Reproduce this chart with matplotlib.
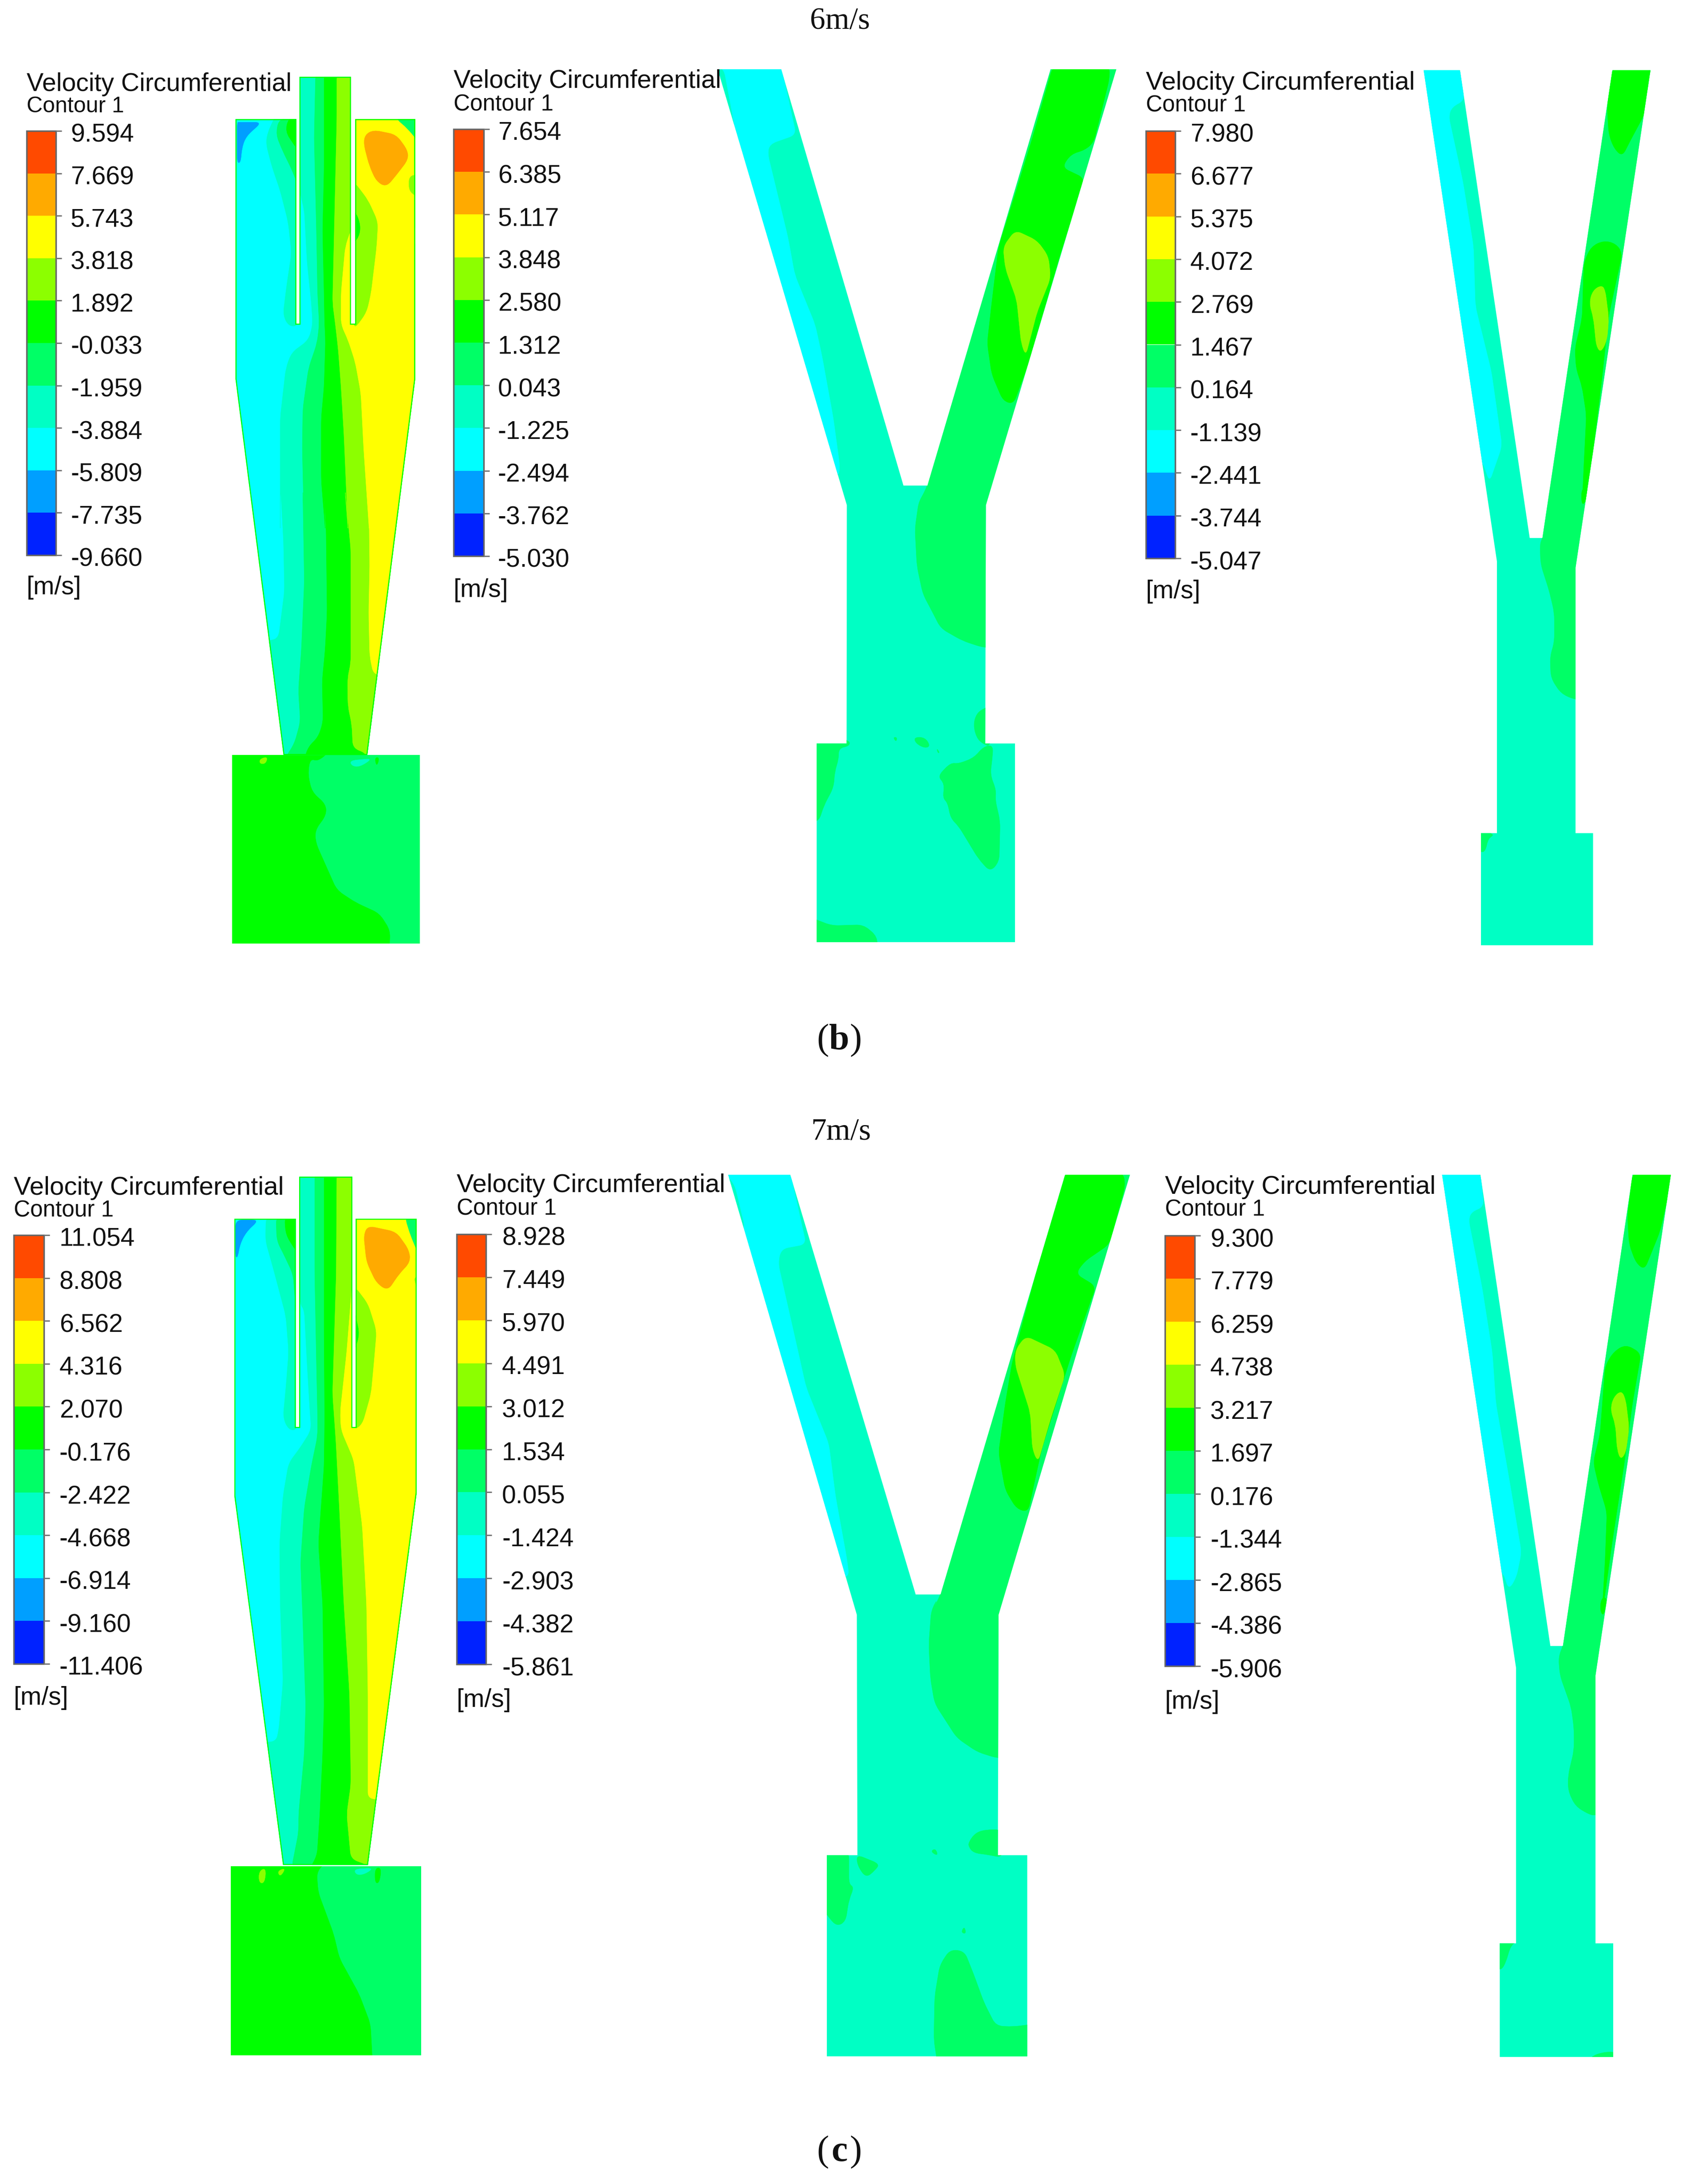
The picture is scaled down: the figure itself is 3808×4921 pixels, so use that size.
import matplotlib
matplotlib.use("Agg")
import matplotlib.pyplot as plt
import matplotlib.transforms as mtrans
from matplotlib.patches import Polygon, Rectangle, PathPatch
from matplotlib.path import Path

# ---------------- colour levels ----------------
RED, ORA, YEL, LIM, GRN, G66, TEA, CYA, SKY, BLU = ('#FF4A00', '#FFAA00', '#FFFF00', '#8CFF00', '#00FF00',
                                                    '#00FF66', '#00FFC4', '#00FFFF', '#009FFF', '#0022FF')
BANDS = [RED, ORA, YEL, LIM, GRN, G66, TEA, CYA, SKY, BLU]

LEVELS_B1 = ['9.594', '7.669', '5.743', '3.818', '1.892', '-0.033', '-1.959', '-3.884', '-5.809', '-7.735', '-9.660']
LEVELS_B2 = ['7.654', '6.385', '5.117', '3.848', '2.580', '1.312', '0.043', '-1.225', '-2.494', '-3.762', '-5.030']
LEVELS_B3 = ['7.980', '6.677', '5.375', '4.072', '2.769', '1.467', '0.164', '-1.139', '-2.441', '-3.744', '-5.047']
LEVELS_C1 = ['11.054', '8.808', '6.562', '4.316', '2.070', '-0.176', '-2.422', '-4.668', '-6.914', '-9.160', '-11.406']
LEVELS_C2 = ['8.928', '7.449', '5.970', '4.491', '3.012', '1.534', '0.055', '-1.424', '-2.903', '-4.382', '-5.861']
LEVELS_C3 = ['9.300', '7.779', '6.259', '4.738', '3.217', '1.697', '0.176', '-1.344', '-2.865', '-4.386', '-5.906']


def crop(x0, y0, w, h, sx=None):
    """Reading frame: maps points read in a magnified view to picture pixels."""
    sx = sx or min(1568 / w, 3)
    sy = 1568 / h
    return lambda pts: [(x0 + a / sx, y0 + b / sy) for a, b in pts]


Z1, Z2 = crop(0, 100, 1000, 1100), crop(400, 1100, 700, 1100)
Z3, Z4 = crop(1000, 100, 1600, 1100), crop(1700, 1100, 700, 1100)
Z5, Z6 = crop(2550, 100, 1258, 1100), crop(3200, 1100, 600, 1100)
Z7, Z8 = crop(0, 2600, 1000, 2120), crop(1000, 2600, 1600, 1100)
Z9, Z10 = crop(1800, 3600, 600, 1100), crop(2600, 2600, 1208, 1100)
Z11 = crop(3250, 3600, 500, 1100)


def right_of(b, right, sweep=None):
    """Everything to the right of a boundary; sweep = bottom y if the band also fills beneath its end."""
    pts = list(b)
    if sweep is not None:
        pts += [(pts[-1][0] - 300, pts[-1][1]), (pts[-1][0] - 300, sweep), (right, sweep)]
    else:
        pts += [(right, pts[-1][1])]
    return pts + [(right, b[0][1])]


# ---------------- panel b1: cyclone ----------------
B1_BODY = Z1([(832, 240), (1047, 240), (1047, 897), (1058, 897), (1058, 104), (1240, 104), (1240, 897), (1255, 897),
              (1255, 240), (1467, 240), (1467, 1075)]) + Z2([(958, 857), (535, 857)]) + Z1([(832, 1075)])
B1_BIN = Z2([(275, 857), (1222, 857), (1222, 1462), (275, 1462)])
B1_A = Z1([(1062, 90), (1060, 480), (1075, 530), (1085, 700), (1100, 830), (1105, 900), (1090, 950), (1030, 990),
           (1010, 1040), (990, 1200), (990, 1568)]) + Z2([(520, 0), (535, 170), (540, 330), (510, 480), (470, 490)])
B1_B = Z1([(1115, 90), (1110, 300), (1118, 600), (1122, 800), (1128, 900), (1120, 960), (1090, 1040), (1070, 1170),
           (1068, 1300), (1075, 1568)]) + Z2([(632, 0), (640, 300), (625, 520), (610, 650), (620, 750), (590, 820),
                                              (540, 870)])
B1_C = Z1([(1145, 90), (1145, 400), (1140, 600), (1145, 800), (1147, 900), (1150, 950), (1145, 1100), (1135, 1200),
           (1135, 1400), (1150, 1568)]) + Z2([(738, 0), (750, 130), (755, 400), (745, 520), (730, 620), (735, 750),
                                              (710, 800), (660, 830), (640, 870)])
B1_D = Z1([(1190, 90), (1190, 240), (1175, 830), (1185, 900), (1195, 980), (1205, 1100), (1215, 1250), (1230, 1568)]) + \
    Z2([(845, 0), (875, 200), (875, 560), (858, 610), (860, 700), (880, 760), (885, 835), (950, 850), (950, 870)])
B1_E = Z1([(1242, 590), (1220, 650), (1205, 800), (1205, 900), (1230, 950), (1255, 1020), (1275, 1120), (1285, 1300),
           (1305, 1568)]) + Z2([(965, 0), (970, 250), (965, 400), (970, 540), (990, 600), (1100, 600)])
B1_ANNULUS = Z1([(1250, 200), (1520, 200), (1520, 640), (1250, 640)])
B1_LAYERS = [
    (SKY, Z1([(845, 250), (925, 250), (870, 295), (855, 330), (850, 380), (838, 380), (838, 250)])),
    (TEA, Z1([(975, 225), (1052, 225), (1052, 905), (1020, 905), (1000, 870), (1012, 780), (1030, 670), (1018, 570),
              (990, 470), (960, 390), (940, 320), (945, 285)])),
    (G66, Z1([(985, 240), (1052, 235), (1052, 450), (1030, 400), (1000, 345), (975, 290)])),
    (GRN, Z1([(1020, 235), (1052, 235), (1052, 340), (1008, 280)])),
    (TEA, right_of(B1_A, 1100, sweep=1720)),
    (G66, right_of(B1_B, 1100)),
    (GRN, right_of(B1_C, 1100)),
    (LIM, right_of(B1_D, 1100)),
    (YEL, B1_ANNULUS),
    (YEL, right_of(B1_E, 1100)),
    (G66, Z1([(1395, 235), (1485, 225), (1485, 320), (1440, 270)])),
    (LIM, Z1([(1445, 420), (1490, 420), (1490, 495), (1445, 475)])),
    (LIM, Z1([(1250, 440), (1300, 500), (1335, 570), (1330, 650), (1310, 800), (1295, 860), (1260, 905), (1250, 905)])),
    (GRN, Z1([(1250, 530), (1272, 570), (1272, 610), (1250, 640)])),
    (ORA, Z1([(1290, 290), (1320, 275), (1400, 290), (1440, 340), (1442, 370), (1400, 420), (1365, 458), (1330, 440),
              (1305, 390), (1285, 320)])),
]
B1_BIN_LAYERS = [
    (G66, Z2([(670, 870), (660, 920), (680, 975), (750, 1015), (752, 1050), (695, 1100), (700, 1140), (805, 1290),
              (900, 1330), (1020, 1365), (1075, 1420), (1070, 1490), (1300, 1500), (1300, 820), (780, 840),
              (710, 878)])),
    (LIM, Z2([(415, 870), (455, 862), (445, 885), (415, 885)])),
    (TEA, Z2([(870, 875), (985, 868), (920, 895), (880, 892)])),
    (GRN, Z2([(995, 865), (1020, 865), (1005, 895)])),
]

# ---------------- panel c1: cyclone ----------------
C1_BODY = Z7([(828, 108), (1045, 108), (1045, 455), (1057, 455), (1057, 38), (1245, 38), (1245, 455), (1257, 455),
              (1257, 108), (1472, 108), (1472, 565), (1300, 1185), (1000, 1185), (828, 570)])
C1_BIN = Z7([(815, 1187), (1488, 1187), (1488, 1502), (815, 1502)])
C1_A = Z7([(1060, 30), (1060, 250), (1075, 260), (1085, 350), (1095, 430), (1100, 460), (1060, 490), (1020, 515),
           (1000, 570), (988, 650), (990, 750), (1000, 880), (985, 960), (975, 980), (920, 980)])
C1_B = Z7([(1112, 30), (1112, 200), (1118, 350), (1122, 440), (1122, 470), (1100, 520), (1075, 590), (1062, 680),
           (1070, 780), (1080, 920), (1075, 1000), (1055, 1100), (1055, 1130), (1030, 1190)])
C1_C = Z7([(1145, 30), (1145, 300), (1147, 440), (1145, 520), (1125, 650), (1140, 750), (1145, 920), (1140, 1000),
           (1130, 1100), (1120, 1170), (1095, 1190)])
C1_D = Z7([(1190, 30), (1188, 200), (1175, 400), (1187, 480), (1200, 600), (1215, 750), (1235, 900), (1240, 1050),
           (1225, 1100), (1240, 1175), (1300, 1185), (1300, 1195)])
C1_E = Z7([(1247, 200), (1225, 330), (1202, 430), (1205, 460), (1250, 510), (1280, 620), (1295, 750), (1300, 900),
           (1300, 1075), (1400, 1075)])
C1_LAYERS = [
    (SKY, Z7([(832, 110), (915, 110), (870, 130), (848, 150), (840, 172), (832, 172)])),
    (TEA, Z7([(940, 104), (1050, 104), (1050, 460), (1020, 460), (1000, 440), (1010, 390), (1020, 330), (1010, 270),
              (965, 190), (938, 145)])),
    (G66, Z7([(975, 104), (1050, 104), (1050, 285), (1035, 200), (1000, 165), (978, 145)])),
    (GRN, Z7([(1005, 104), (1050, 104), (1050, 165), (1010, 135)])),
    (TEA, right_of(C1_A, 1100, sweep=4220)),
    (G66, right_of(C1_B, 1100)),
    (GRN, right_of(C1_C, 1100)),
    (LIM, right_of(C1_D, 1100)),
    (YEL, Z7([(1250, 90), (1510, 90), (1510, 230), (1250, 230)])),
    (YEL, right_of(C1_E, 1100)),
    (G66, Z7([(1430, 104), (1490, 95), (1490, 180), (1450, 135)])),
    (LIM, Z7([(1460, 205), (1490, 245), (1490, 205)])),
    (LIM, Z7([(1252, 220), (1300, 250), (1330, 295), (1320, 350), (1310, 400), (1280, 450), (1252, 460)])),
    (GRN, Z7([(1252, 260), (1270, 300), (1252, 330)])),
    (ORA, Z7([(1285, 135), (1300, 120), (1400, 130), (1445, 160), (1450, 180), (1410, 200), (1370, 228), (1330, 215),
              (1295, 180)])),
]
C1_BIN_LAYERS = [
    (G66, Z7([(1120, 1195), (1125, 1230), (1180, 1300), (1200, 1340), (1270, 1400), (1310, 1450), (1320, 1540),
              (1560, 1540), (1560, 1150), (1180, 1170)])),
    (LIM, Z7([(915, 1195), (940, 1190), (935, 1215), (915, 1215)])),
    (LIM, Z7([(980, 1195), (1010, 1190), (990, 1205)])),
    (TEA, Z7([(1250, 1192), (1320, 1190), (1290, 1200), (1260, 1202)])),
    (GRN, Z7([(1325, 1190), (1348, 1190), (1340, 1215), (1325, 1215)])),
]

# ---------------- panel b2: separator ----------------
B2_BODY = Z3([(605, 80), (745, 80), (1015, 1417), (1068, 1417), (1340, 80), (1485, 80), (1197, 1480)]) + \
    Z4([(1165, 820), (1315, 820), (1315, 1458), (314, 1458), (314, 820), (465, 820)]) + Z3([(890, 1480)])
B2_LAYERS = [
    (CYA, Z3([(500, 70), (745, 70), (778, 290), (720, 320), (715, 350), (760, 620), (775, 740), (820, 900), (835, 1000),
              (860, 1200), (875, 1360), (870, 1390), (500, 1390)])),
    (TEA, Z3([(600, 70), (618, 80), (645, 290), (630, 290)])),
    (G66, Z3([(1330, 60), (1600, 60)]) + Z4([(1500, 512), (1155, 512), (1050, 490), (940, 450), (900, 400), (850, 340),
                                              (820, 250), (810, 130), (830, 40), (875, 0)]) +
     Z3([(1050, 1470), (1068, 1417)])),
    (GRN, Z3([(1345, 70), (1470, 70), (1470, 110), (1435, 315), (1415, 340), (1385, 352), (1365, 395), (1415, 430),
              (1360, 680), (1290, 1030), (1258, 1155), (1235, 1145), (1210, 1060), (1200, 960), (1210, 830), (1225, 650),
              (1262, 480), (1300, 300)])),
    (LIM, Z3([(1262, 597), (1310, 630), (1335, 680), (1340, 750), (1310, 860), (1285, 1000), (1275, 960), (1265, 820),
              (1240, 720), (1235, 650)])),
    (G66, Z4([(1155, 708), (1120, 725), (1105, 760), (1120, 800), (1150, 820), (1190, 830), (1190, 700)])),
    (G66, Z4([(280, 790), (480, 810), (480, 828), (425, 835), (425, 870), (405, 910), (400, 960), (350, 1020),
              (325, 1070), (280, 1070)])),
    (G66, Z4([(925, 925), (990, 882), (1030, 885), (1110, 865), (1155, 830), (1205, 825), (1200, 870), (1190, 920),
              (1220, 970), (1215, 1000), (1240, 1070), (1235, 1200), (1190, 1232), (1130, 1190), (1030, 1085),
              (990, 1060), (975, 1010), (950, 995), (960, 950)])),
    (G66, Z4([(280, 1378), (390, 1405), (550, 1402), (620, 1440), (620, 1490), (280, 1490)])),
    (G66, Z4([(805, 800), (860, 800), (888, 828), (860, 835), (815, 820)])),
    (G66, Z4([(700, 800), (720, 800), (715, 815)])),
    (G66, Z4([(920, 835), (935, 850), (925, 850)])),
]

# ---------------- panel c2: separator ----------------
C2_BODY = Z8([(628, 67), (765, 67), (1042, 1415), (1097, 1415), (1372, 67), (1515, 67), (1225, 1480)]) + \
    Z9([(1172, 827), (1345, 827), (1345, 1473), (165, 1473), (165, 827), (345, 827)]) + Z8([(912, 1480)])
C2_LAYERS = [
    (CYA, Z8([(500, 60), (765, 60), (800, 290), (745, 305), (738, 350), (780, 620), (800, 750), (850, 930), (865, 1100),
              (890, 1300), (895, 1360), (500, 1360)])),
    (TEA, Z8([(620, 60), (642, 100), (665, 240), (650, 240)])),
    (G66, Z8([(1360, 50), (1600, 50)]) + Z9([(1500, 515), (1165, 515), (1050, 495), (930, 450), (800, 340), (775, 260),
                                              (765, 150), (780, 40), (820, 0)]) +
     Z8([(1078, 1470), (1097, 1415)])),
    (GRN, Z8([(1372, 60), (1500, 60), (1505, 100), (1470, 290), (1415, 345), (1395, 385), (1440, 425), (1385, 650),
              (1320, 950), (1290, 1150), (1265, 1140), (1240, 1080), (1225, 960), (1240, 800), (1255, 670), (1310, 370),
              (1345, 200)])),
    (LIM, Z8([(1285, 585), (1350, 630), (1372, 710), (1340, 850), (1312, 990), (1300, 950), (1295, 830), (1262, 680),
              (1262, 630)])),
    (G66, Z9([(1000, 785), (1040, 755), (1100, 745), (1200, 745), (1200, 835), (1110, 825), (1030, 820), (1000, 800)])),
    (G66, Z9([(130, 800), (295, 815), (295, 920), (325, 930), (295, 970), (275, 1040), (225, 1055), (180, 1030),
              (130, 990)])),
    (G66, Z9([(340, 825), (475, 855), (450, 875), (395, 900), (345, 860)])),
    (G66, Z9([(890, 1130), (975, 1135), (1030, 1210), (1090, 1300), (1160, 1375), (1260, 1378), (1400, 1368),
              (1400, 1510), (820, 1510), (795, 1420), (800, 1280), (830, 1180)])),
    (G66, Z9([(775, 815), (805, 805), (820, 830)])),
    (G66, Z9([(955, 1075), (975, 1055), (985, 1080)])),
]

# ---------------- panel b3: separator ----------------
B3_BODY = Z5([(820, 83), (922, 83)]) + Z6([(645, 160), (720, 160)]) + Z5([(1350, 83), (1457, 83)]) + \
    Z6([(915, 255), (915, 1108), (1018, 1108), (1018, 1468), (358, 1468), (358, 1108), (452, 1108), (452, 235)])
B3_LAYERS = [
    (CYA, Z5([(700, 75), (922, 75), (935, 180), (900, 200), (890, 230), (930, 440), (960, 650), (965, 840), (1010, 1050),
              (1040, 1290), (1005, 1405), (985, 1340), (985, 1360), (700, 1360)])),
    (G66, Z5([(1340, 60), (1520, 60)]) + Z6([(1100, 680), (915, 680), (830, 660), (770, 610), (765, 540), (790, 495),
                                              (790, 400), (760, 330), (710, 245), (705, 180), (720, 160)])),
    (GRN, Z5([(1350, 75), (1460, 75), (1440, 225), (1400, 310), (1378, 360), (1355, 335), (1340, 290), (1335, 200)])),
    (GRN, Z5([(1325, 630), (1360, 640), (1378, 670), (1340, 870), (1320, 1080), (1280, 1460), (1265, 1480), (1270, 1350),
              (1277, 1190), (1265, 1100), (1248, 1040), (1245, 975), (1265, 880), (1270, 700), (1290, 650)])),
    (LIM, Z5([(1320, 773), (1330, 790), (1340, 880), (1335, 950), (1318, 990), (1305, 970), (1297, 880), (1285, 830),
              (1295, 790)])),
    (GRN, Z6([(950, 0), (990, 0), (970, 50), (950, 50)])),
    (G66, Z6([(340, 1095), (440, 1112), (400, 1125), (385, 1165), (358, 1170), (340, 1155)])),
]

# ---------------- panel c3: separator ----------------
C3_BODY = Z10([(843, 67), (955, 67)]) + Z11([(730, 155), (815, 155)]) + Z10([(1400, 67), (1512, 67)]) + \
    Z11([(1035, 250), (1035, 1110), (1155, 1110), (1155, 1475), (388, 1475), (388, 1110), (498, 1110), (498, 225)])
C3_LAYERS = [
    (CYA, Z10([(700, 60), (955, 60), (965, 170), (930, 185), (920, 210), (960, 430), (990, 640), (1000, 800),
               (1040, 1050), (1075, 1280), (1060, 1360), (1038, 1400), (1020, 1340), (700, 1340)])),
    (G66, Z10([(1390, 50), (1530, 50)]) + Z11([(1300, 698), (1035, 698), (1000, 698), (900, 670), (850, 620), (850, 570),
                                               (890, 490), (890, 420), (870, 350), (795, 250), (785, 190), (815, 155)])),
    (GRN, Z10([(1400, 60), (1520, 60), (1480, 250), (1435, 372), (1410, 350), (1390, 290), (1385, 200)])),
    (GRN, Z10([(1345, 635), (1380, 612), (1425, 640), (1400, 800), (1375, 1000), (1340, 1250), (1310, 1490), (1320, 1300),
               (1325, 1150), (1300, 1060), (1285, 990), (1305, 900), (1320, 680)])),
    (LIM, Z10([(1368, 760), (1380, 790), (1390, 880), (1380, 960), (1365, 982), (1355, 950), (1350, 870), (1335, 820),
               (1345, 780)])),
    (GRN, Z11([(1075, 0), (1115, 0), (1090, 60), (1065, 40)])),
    (G66, Z11([(370, 1095), (498, 1105), (460, 1120), (430, 1170), (400, 1195), (370, 1190)])),
    (G66, Z11([(1000, 1475), (1080, 1460), (1180, 1458), (1180, 1500), (1000, 1500)])),
]

# ---------------- drawing ----------------
W, H = 3808, 4921
fig = plt.figure(figsize=(W / 100, H / 100), dpi=100, facecolor='white')
ax = fig.add_axes([0, 0, 1, 1])
ax.set_xlim(0, W)
ax.set_ylim(H, 0)
ax.axis('off')
SANS, SERIF = 'Liberation Sans', 'Liberation Serif'
TXT = '#111111'
ROUND = 16


def rounded(pts, r=ROUND):
    """Closed path whose corners are eased with quadratic curves, as contour lines are."""
    n = len(pts)
    verts, codes = [], []
    for i in range(n):
        p0, p1, p2 = pts[i - 1], pts[i], pts[(i + 1) % n]
        d0 = max(((p1[0] - p0[0]) ** 2 + (p1[1] - p0[1]) ** 2) ** 0.5, 1e-6)
        d2 = max(((p2[0] - p1[0]) ** 2 + (p2[1] - p1[1]) ** 2) ** 0.5, 1e-6)
        a0, a2 = min(r, d0 / 2) / d0, min(r, d2 / 2) / d2
        start = (p1[0] + (p0[0] - p1[0]) * a0, p1[1] + (p0[1] - p1[1]) * a0)
        end = (p1[0] + (p2[0] - p1[0]) * a2, p1[1] + (p2[1] - p1[1]) * a2)
        verts += [start, p1, end]
        codes += [Path.MOVETO if i == 0 else Path.LINETO, Path.CURVE3, Path.CURVE3]
    verts.append(verts[0])
    codes.append(Path.CLOSEPOLY)
    return Path(verts, codes)


def region(outline, base, layers, edge=None):
    shape = Polygon(outline, closed=True, facecolor=base, edgecolor='none', zorder=2)
    ax.add_patch(shape)
    for i, (colour, pts) in enumerate(layers):
        p = PathPatch(rounded(pts), facecolor=colour, edgecolor=colour, linewidth=0.5, zorder=3 + i * 0.01)
        ax.add_patch(p)
        p.set_clip_path(shape)
    if edge:
        e = Polygon(outline, closed=True, facecolor='none', edgecolor=edge, linewidth=3.4, zorder=3.9)
        ax.add_patch(e)
        e.set_clip_path(shape)


def fit_text(x, y, s, width, size):
    t = ax.text(x, y, s, family=SANS, fontsize=size, color=TXT, va='baseline', ha='left', zorder=10)
    got = t.get_window_extent(fig.canvas.get_renderer()).width
    t.set_fontsize(size * width / got)


def legend(x0, x1, top, bottom, xlabel, levels, title_y, contour_y, unit_y, title_w, contour_w):
    fit_text(x0, title_y, 'Velocity Circumferential', title_w, 40)
    fit_text(x0, contour_y, 'Contour 1', contour_w, 36)
    step = (bottom - top) / len(BANDS)
    for i, c in enumerate(BANDS):
        ax.add_patch(Rectangle((x0, top + i * step), x1 - x0, step, facecolor=c, edgecolor='none', zorder=4))
    ax.add_patch(Rectangle((x0, top), x1 - x0, bottom - top, facecolor='none', edgecolor='#666666', linewidth=2.5,
                           zorder=5))
    for i, lab in enumerate(levels):
        yy = top + i * step
        ax.plot([x1, x1 + 13], [yy, yy], color='#777777', lw=2.2, zorder=5, solid_capstyle='butt')
        ax.text(xlabel, yy + 25, lab, family=SANS, fontsize=41, color=TXT, va='baseline', ha='left', zorder=10)
    ax.text(x0, unit_y, '[m/s]', family=SANS, fontsize=41, color=TXT, va='baseline', ha='left', zorder=10)


region(B1_BODY, CYA, B1_LAYERS, edge=GRN)
region(B1_BIN, GRN, B1_BIN_LAYERS)
region(C1_BODY, CYA, C1_LAYERS, edge=GRN)
region(C1_BIN, GRN, C1_BIN_LAYERS)
region(B2_BODY, TEA, B2_LAYERS)
region(C2_BODY, TEA, C2_LAYERS)
region(B3_BODY, TEA, B3_LAYERS)
region(C3_BODY, TEA, C3_LAYERS)

legend(60, 126, 295, 1251, 159, LEVELS_B1, 205, 253, 1339, 597, 220)
legend(1022, 1090, 291, 1253, 1122, LEVELS_B2, 198, 249, 1345, 602, 225)
legend(2582, 2648, 295, 1258, 2682, LEVELS_B3, 202, 251, 1348, 606, 225)
legend(31, 99, 2783, 3749, 134, LEVELS_C1, 2692, 2742, 3841, 609, 225)
legend(1029, 1095, 2781, 3750, 1131, LEVELS_C2, 2686, 2737, 3846, 605, 225)
legend(2625, 2692, 2784, 3754, 2727, LEVELS_C3, 2690, 2740, 3850, 610, 225)

ax.text(1893, 65, '6m/s', family=SERIF, fontsize=50, color=TXT, ha='center', va='baseline')
ax.text(1895, 2568, '7m/s', family=SERIF, fontsize=50, color=TXT, ha='center', va='baseline')
for xc, yc, letter in [(1891, 2364, 'b'), (1891, 4869, 'c')]:
    off = 17 / 72
    ax.text(xc, yc, '(', family=SERIF, fontsize=59, color=TXT, ha='right', va='baseline',
            transform=ax.transData + mtrans.ScaledTranslation(-off, 0, fig.dpi_scale_trans))
    ax.text(xc, yc, letter, family=SERIF, fontsize=59, color=TXT, fontweight='bold', ha='center', va='baseline')
    ax.text(xc, yc, ')', family=SERIF, fontsize=59, color=TXT, ha='left', va='baseline',
            transform=ax.transData + mtrans.ScaledTranslation(off, 0, fig.dpi_scale_trans))

fig.savefig('out.png', dpi=100, facecolor='white')
